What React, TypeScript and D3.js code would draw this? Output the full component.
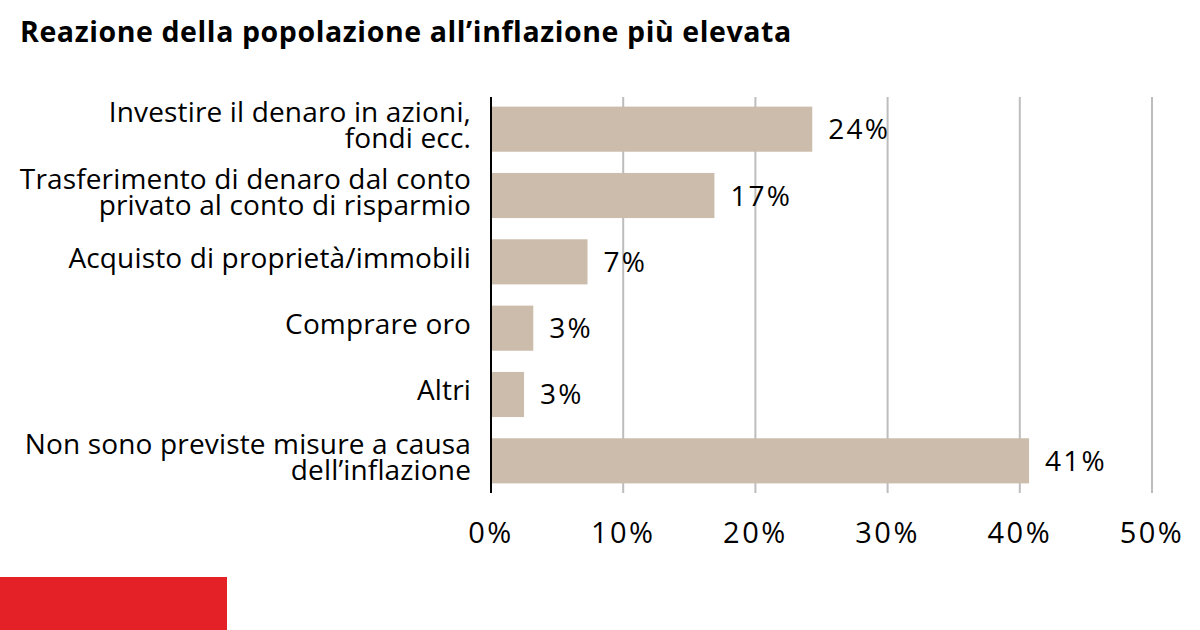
import React, { useRef, useEffect } from 'react';
import * as d3 from 'd3';

const title = "Reazione della popolazione all\u2019inflazione più elevata";

// category labels, split in lines as in the picture
const categories = [
    ["Investire il denaro in azioni,", "fondi ecc."],
    ["Trasferimento di denaro dal conto", "privato al conto di risparmio"],
    ["Acquisto di proprietà/immobili"],
    ["Comprare oro"],
    ["Altri"],
    ["Non sono previste misure a causa", "dell\u2019inflazione"],
];
const values = [24.3, 16.9, 7.3, 3.2, 2.5, 40.7];
const valueLabels = ["24%", "17%", "7%", "3%", "3%", "41%"];
const ticks = [0, 10, 20, 30, 40, 50];

const W = 1200;
const H = 630;
const FONT = "'Open Sans', 'Noto Sans', sans-serif";

export default function App() {
    const svgRef = useRef(null);

    useEffect(() => {
        const svg = d3.select(svgRef.current);
        svg.selectAll('*').remove();

        const x = d3.scaleLinear().domain([0, 50]).range([491, 1152]);
        const y = d3.scaleBand()
            .domain(categories.map((_, i) => String(i)))
            .range([97, 493])
            .paddingInner(0.32)
            .paddingOuter(0.145);

        svg.append('rect').attr('width', W).attr('height', H).attr('fill', '#fff');

        // title
        svg.append('text')
            .attr('x', 20).attr('y', 42)
            .attr('font-family', FONT)
            .attr('font-weight', 700)
            .attr('font-size', 28.5)
            .attr('letter-spacing', 0.6)
            .attr('fill', '#000')
            .text(title);

        // gridlines
        svg.append('g')
            .selectAll('line')
            .data(ticks.slice(1))
            .enter().append('line')
            .attr('x1', d => x(d)).attr('x2', d => x(d))
            .attr('y1', 97).attr('y2', 493)
            .attr('stroke', '#bdbdbd')
            .attr('stroke-width', 2);

        // bars
        svg.append('g')
            .selectAll('rect')
            .data(values)
            .enter().append('rect')
            .attr('x', x(0))
            .attr('y', (_, i) => y(String(i)))
            .attr('width', d => x(d) - x(0))
            .attr('height', y.bandwidth())
            .attr('fill', '#cbbcab');

        // value labels
        svg.append('g')
            .selectAll('text')
            .data(values)
            .enter().append('text')
            .attr('x', d => x(d) + 16)
            .attr('y', (_, i) => y(String(i)) + y.bandwidth() / 2 + 10)
            .attr('font-family', FONT)
            .attr('font-size', 28)
            .attr('letter-spacing', 2.2)
            .attr('fill', '#000')
            .text((_, i) => valueLabels[i]);

        // category labels
        const cat = svg.append('g')
            .selectAll('text')
            .data(categories)
            .enter().append('text')
            .attr('text-anchor', 'end')
            .attr('font-family', FONT)
            .attr('font-size', 28)
            .attr('letter-spacing', 0.15)
            .attr('fill', '#000');
        cat.each(function (lines, i) {
            const c = y(String(i)) + y.bandwidth() / 2;
            const lh = 26;
            const y0 = c + 6 - ((lines.length - 1) * lh) / 2;
            d3.select(this).selectAll('tspan')
                .data(lines)
                .enter().append('tspan')
                .attr('x', 471)
                .attr('y', (_, j) => y0 + j * lh)
                .text(d => d);
        });

        // axis line
        svg.append('line')
            .attr('x1', x(0)).attr('x2', x(0))
            .attr('y1', 97).attr('y2', 493)
            .attr('stroke', '#000')
            .attr('stroke-width', 2);

        // tick labels
        svg.append('g')
            .selectAll('text')
            .data(ticks)
            .enter().append('text')
            .attr('x', d => x(d))
            .attr('y', 543)
            .attr('text-anchor', 'middle')
            .attr('font-family', FONT)
            .attr('font-size', 29)
            .attr('letter-spacing', 2.5)
            .attr('fill', '#000')
            .text(d => `${d}%`);

        // red brand block
        svg.append('rect')
            .attr('x', 0).attr('y', 577)
            .attr('width', 227).attr('height', 53)
            .attr('fill', '#e42127');
    }, []);

    return (
        <svg ref={svgRef} width={W} height={H}
            style={{ position: 'absolute', left: 0, top: 0, display: 'block' }} />
    );
}
